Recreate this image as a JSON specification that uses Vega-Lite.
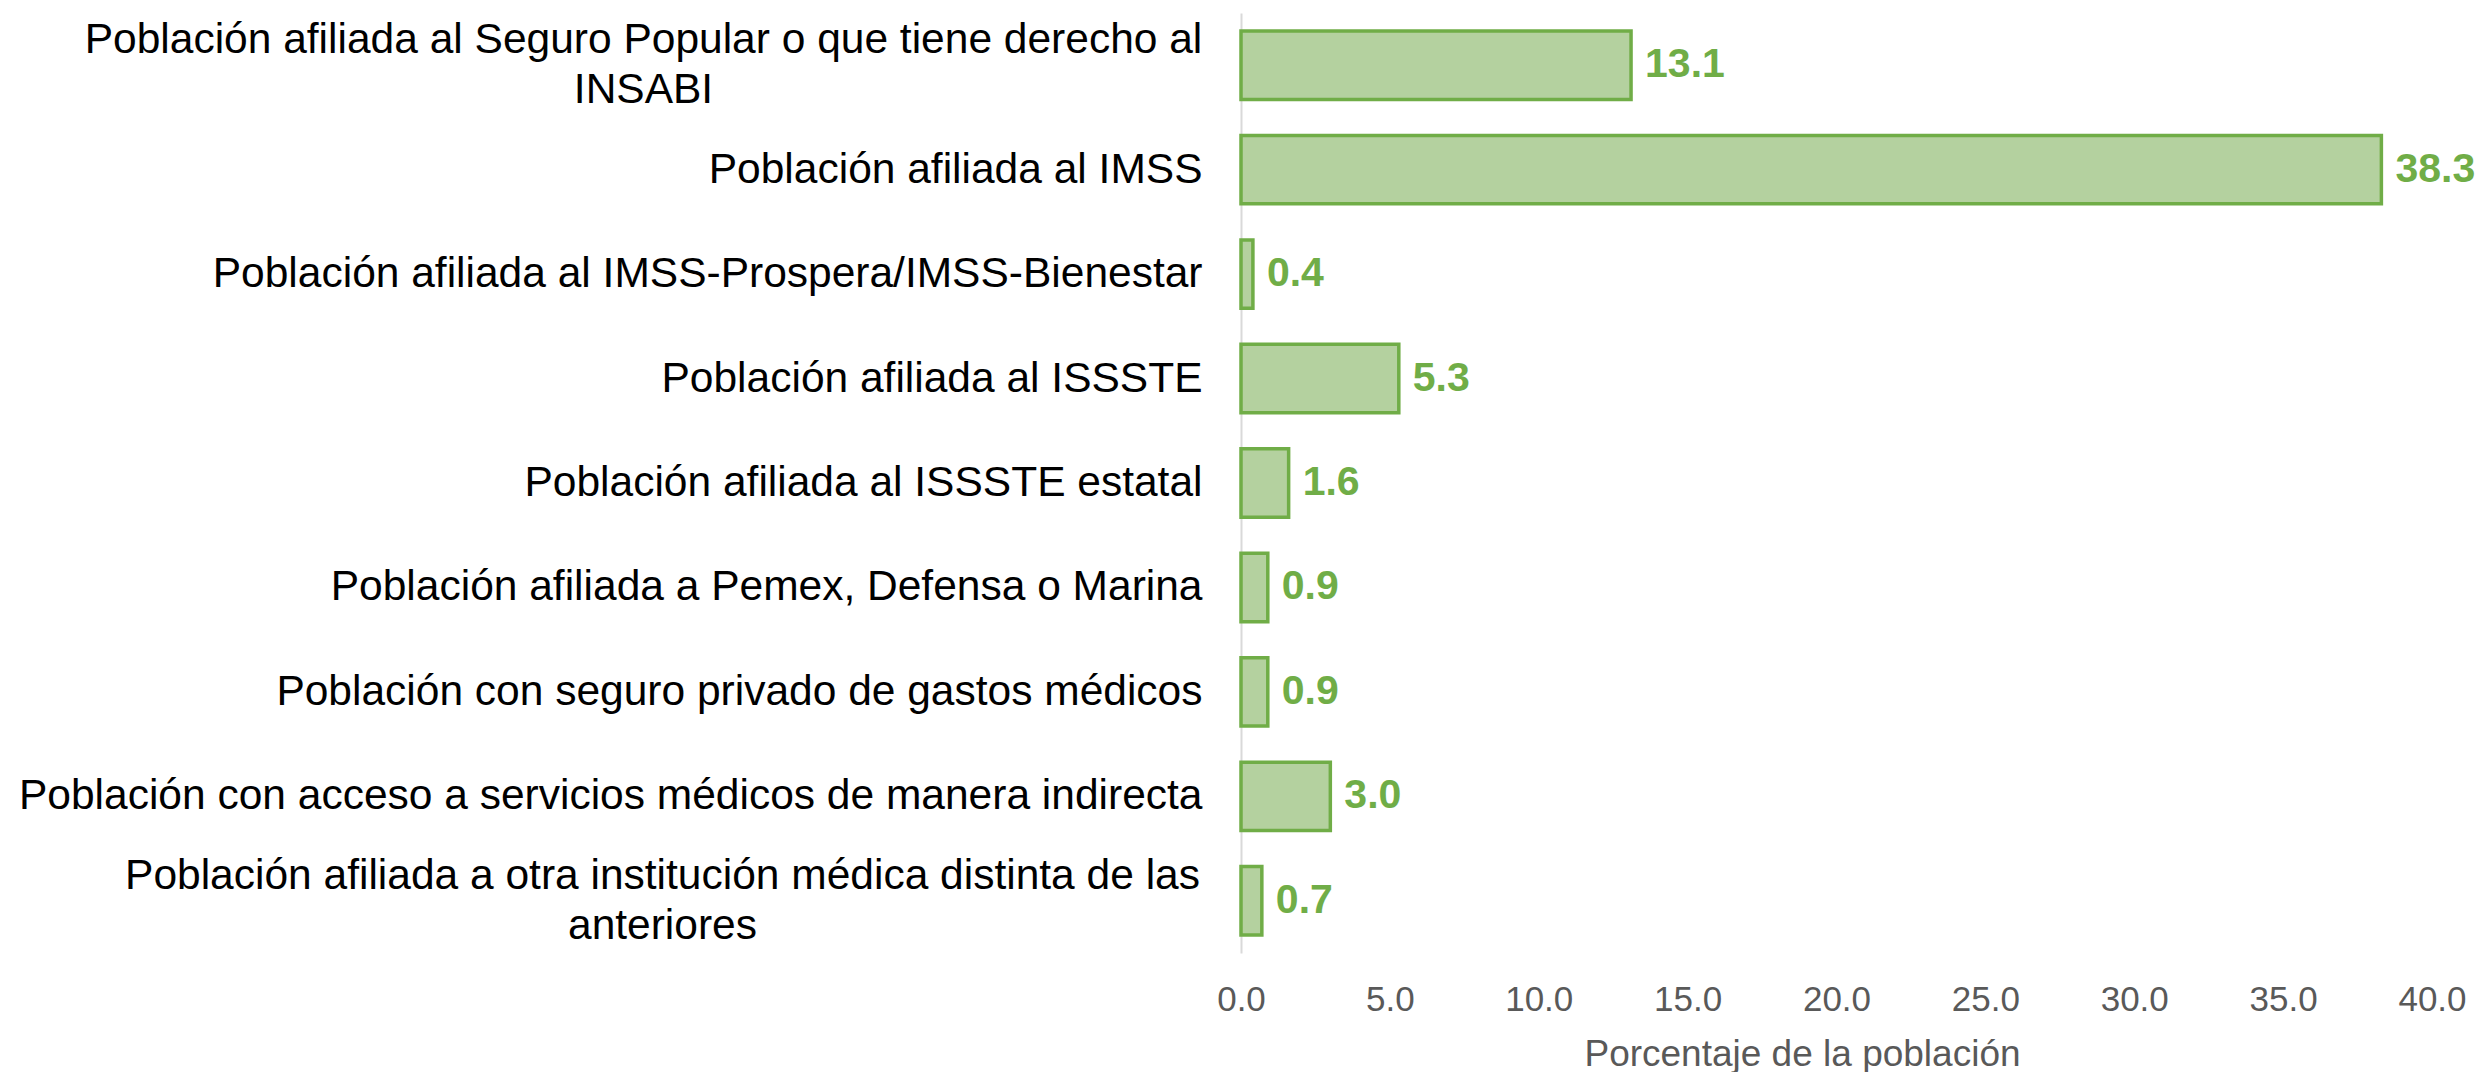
{
  "$schema": "https://vega.github.io/schema/vega-lite/v6.json",
  "autosize": "none",
  "padding": {"left": 1241, "top": 13, "right": 44, "bottom": 119},
  "width": 1191,
  "height": 940,
  "background": "white",
  "config": {"view": {"stroke": null}, "font": "Liberation Sans"},
  "data": {"values": [
    {"cat": "Población afiliada al Seguro Popular o que tiene derecho al|INSABI", "pct": 13.1},
    {"cat": "Población afiliada al IMSS", "pct": 38.3},
    {"cat": "Población afiliada al IMSS-Prospera/IMSS-Bienestar", "pct": 0.4},
    {"cat": "Población afiliada al ISSSTE ", "pct": 5.3},
    {"cat": "Población afiliada al ISSSTE estatal", "pct": 1.6},
    {"cat": "Población afiliada a Pemex, Defensa o Marina", "pct": 0.9},
    {"cat": "Población con seguro privado de gastos médicos", "pct": 0.9},
    {"cat": "Población con acceso a servicios médicos de manera indirecta", "pct": 3.0},
    {"cat": "Población afiliada a otra institución médica distinta de las|anteriores", "pct": 0.7}
  ]},
  "encoding": {
    "y": {
      "field": "cat", "type": "nominal", "sort": null,
      "scale": {"paddingInner": 0.345, "paddingOuter": 0.1725},
      "axis": {
        "title": null,
        "labelExpr": "split(datum.value, '|')",
        "labelFont": "Liberation Sans",
        "labelFontSize": 42.5,
        "labelColor": "#000000",
        "labelLineHeight": 50,
        "labelLimit": 1300,
        "labelBaseline": "middle",
        "labelAlign": {"condition": {"test": "indexof(datum.value, '|') >= 0", "value": "center"}, "value": "right"},
        "labelOffset": {"condition": {"test": "indexof(datum.value, '|') >= 0", "value": -25}, "value": 0},
        "labelPadding": {"condition": [
          {"test": "indexof(datum.value, 'INSABI') >= 0", "value": 598},
          {"test": "indexof(datum.value, 'anteriores') >= 0", "value": 579}
        ], "value": 39},
        "ticks": false,
        "domain": true,
        "domainColor": "#d9d9d9",
        "domainWidth": 2,
        "grid": false
      }
    },
    "x": {
      "field": "pct", "type": "quantitative",
      "scale": {"domain": [0, 40], "nice": false},
      "axis": {
        "title": "Porcentaje de la población",
        "values": [0, 5, 10, 15, 20, 25, 30, 35, 40],
        "format": ".1f",
        "labelFont": "Liberation Sans",
        "labelFontSize": 35,
        "labelColor": "#595959",
        "labelPadding": 29,
        "labelFlush": false,
        "labelOverlap": false,
        "ticks": false,
        "domain": false,
        "grid": false,
        "titleFont": "Liberation Sans",
        "titleFontSize": 37,
        "titleFontWeight": "normal",
        "titleColor": "#595959",
        "titleBaseline": "alphabetic",
        "titleAlign": "center",
        "titleX": 561,
        "titleY": 112
      }
    }
  },
  "layer": [
    {
      "mark": {"type": "bar", "fill": "#b4d19f", "stroke": "#70ad47", "strokeWidth": 3.5},
      "encoding": {}
    },
    {
      "mark": {"type": "text", "align": "left", "baseline": "middle", "dx": 14, "font": "Liberation Sans", "fontSize": 41, "fontWeight": "bold", "color": "#70ad47"},
      "encoding": {"text": {"field": "pct", "type": "quantitative", "format": ".1f"}}
    }
  ]
}
